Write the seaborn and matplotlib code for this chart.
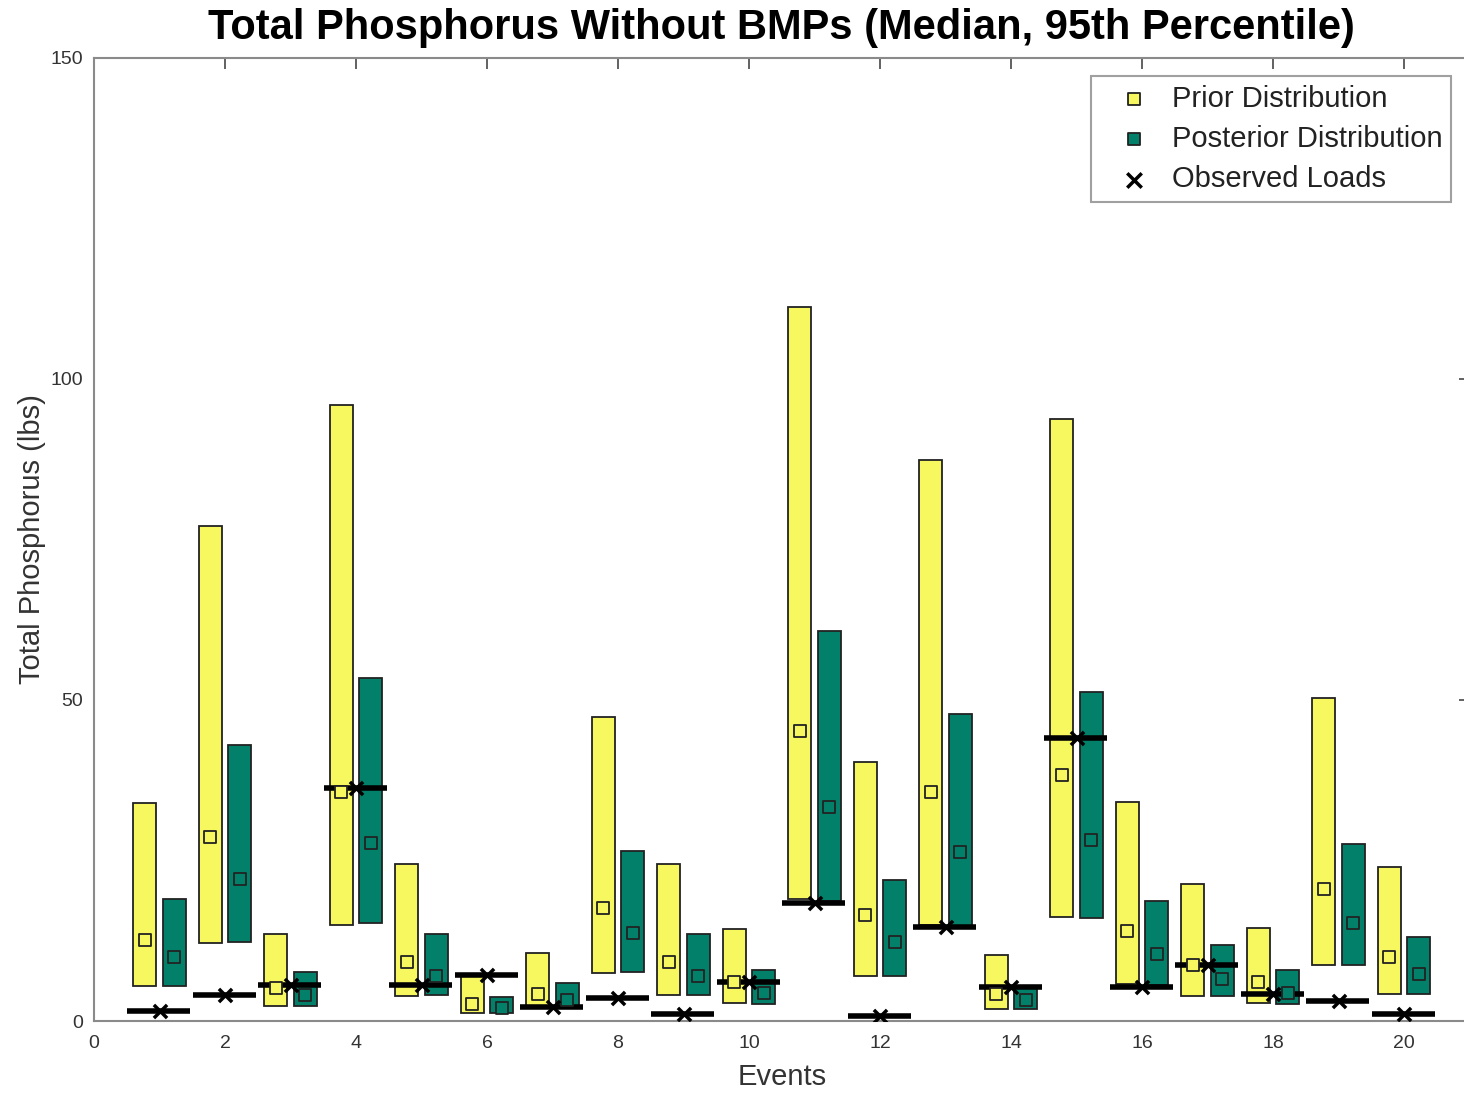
import matplotlib
matplotlib.use("Agg")
import matplotlib.pyplot as plt
import seaborn as sns
import numpy as np
import pandas as pd

events = list(range(1, 21))
prior_low = [5.4, 12.1, 2.3, 15.0, 3.9, 1.2, 2.3, 7.5, 4.0, 2.8, 19.0, 7.0, 15.0, 1.9, 16.2, 5.8, 3.9, 2.8, 8.7, 4.2]
prior_high = [34.0, 77.1, 13.6, 96.0, 24.5, 7.0, 10.6, 47.4, 24.5, 14.3, 111.2, 40.3, 87.4, 10.3, 93.8, 34.1, 21.3, 14.5, 50.3, 24.0]
prior_med = [12.6, 28.7, 5.1, 35.7, 9.2, 2.6, 4.2, 17.6, 9.2, 6.1, 45.2, 16.5, 35.7, 4.2, 38.3, 14.0, 8.7, 6.1, 20.6, 10.0]
post_low = [5.4, 12.3, 2.3, 15.3, 4.0, 1.2, 2.3, 7.6, 4.0, 2.6, 18.7, 7.0, 14.6, 1.9, 16.0, 5.6, 3.9, 2.6, 8.7, 4.2]
post_high = [19.0, 43.0, 7.6, 53.4, 13.6, 3.7, 5.9, 26.5, 13.6, 7.9, 60.7, 22.0, 47.8, 5.5, 51.2, 18.7, 11.8, 7.9, 27.6, 13.1]
post_med = [10.0, 22.1, 4.0, 27.7, 7.0, 2.0, 3.3, 13.7, 7.0, 4.4, 33.3, 12.3, 26.3, 3.3, 28.2, 10.4, 6.5, 4.4, 15.3, 7.3]
observed = [1.6, 4.0, 5.6, 36.3, 5.6, 7.2, 2.2, 3.6, 1.1, 6.1, 18.4, 0.8, 14.6, 5.3, 44.1, 5.3, 8.7, 4.2, 3.1, 1.1]

YELLOW = "#F7F760"
GREEN = "#03806A"
OFF = 0.225
W = 0.35

sns.set_style("white")
plt.rcParams['font.family'] = ['Liberation Sans', 'DejaVu Sans']

fig = plt.figure(figsize=(14.64, 10.94), dpi=100)
ax = fig.add_axes([94/1464, 1 - 1021/1094, 21*65.5/1464, (1021-58)/1094])

df = pd.DataFrame({
    "event": events,
    "prior_low": prior_low, "prior_high": prior_high, "prior_med": prior_med,
    "post_low": post_low, "post_high": post_high, "post_med": post_med,
    "observed": observed,
})
df["x_prior"] = df["event"] - OFF
df["x_post"] = df["event"] + OFF

ax.bar(df["x_prior"], df["prior_high"] - df["prior_low"], bottom=df["prior_low"], width=W,
       color=YELLOW, edgecolor="#222222", linewidth=1.3, zorder=2)
ax.bar(df["x_post"], df["post_high"] - df["post_low"], bottom=df["post_low"], width=W,
       color=GREEN, edgecolor="#222222", linewidth=1.3, zorder=2)

ax.hlines(df["observed"], df["event"] - 0.49, df["event"] + 0.47, color="black", linewidth=4, zorder=4)

sns.scatterplot(data=df, x="x_prior", y="prior_med", marker="s", s=70, color=YELLOW,
                edgecolor="#222222", linewidth=1.3, ax=ax, zorder=5, label="Prior Distribution")
sns.scatterplot(data=df, x="x_post", y="post_med", marker="s", s=70, color=GREEN,
                edgecolor="#222222", linewidth=1.3, ax=ax, zorder=5, label="Posterior Distribution")
sns.scatterplot(data=df, x="event", y="observed", marker="x", s=90, color="black",
                linewidth=2.5, ax=ax, zorder=6, label="Observed Loads")

ax.set_xlim(0, 21)
ax.set_ylim(0, 150)
ax.set_xticks(range(0, 21, 2))
ax.set_yticks([0, 50, 100, 150])
ax.tick_params(direction="in", length=8, width=1.3, color="#555555", top=True, right=True,
               labelsize=14, labelcolor="#333333")
ax.tick_params(axis="x", pad=10)
ax.tick_params(axis="y", pad=8)
for sp in ax.spines.values():
    sp.set_color("#8a8a8a")
    sp.set_linewidth(1.5)

ax.set_xlabel("Events", fontsize=21, color="#333333", labelpad=8)
ax.set_ylabel("Total Phosphorus (lbs)", fontsize=21, color="#333333", labelpad=3)
ax.set_title("Total Phosphorus Without BMPs (Median, 95th Percentile)", fontsize=30,
             fontweight="bold", color="black", pad=14)

leg = ax.legend(loc="upper left", bbox_to_anchor=((1091-94)/(21*65.5), 1 - (76-58)/(1021-58)),
                borderaxespad=0, fontsize=21, frameon=True, fancybox=False, handletextpad=0.14,
                borderpad=0.3, labelspacing=0.42, markerscale=1.1, handlelength=2.33)
leg.get_frame().set_edgecolor("#888888")
leg.get_frame().set_linewidth(1.5)
for t in leg.get_texts():
    t.set_color("#222222")

fig.savefig("out.png", dpi=100)
